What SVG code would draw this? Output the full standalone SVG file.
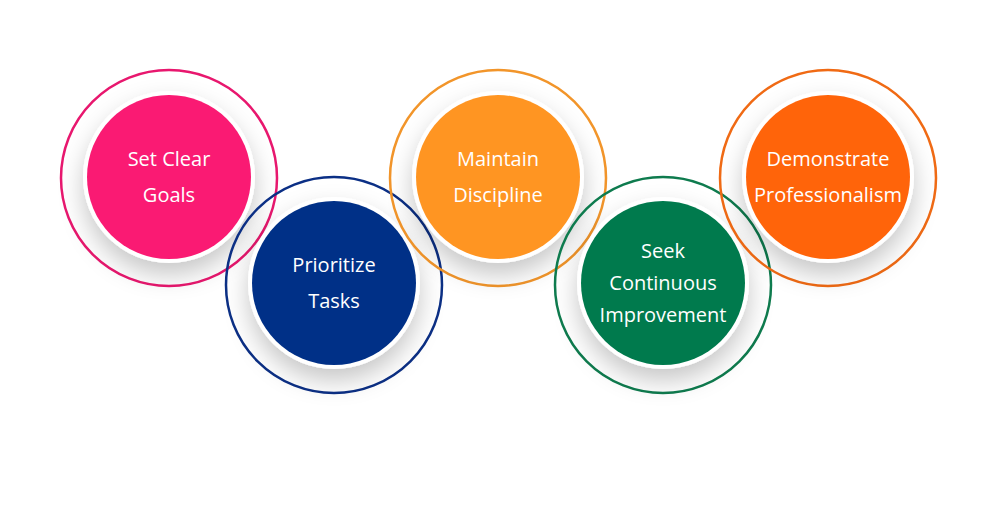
<svg xmlns="http://www.w3.org/2000/svg" width="1000" height="505" viewBox="0 0 1000 505">
<defs>
<filter id="sh" x="-50%" y="-50%" width="200%" height="200%"><feDropShadow dx="0" dy="12" stdDeviation="12" flood-color="#000" flood-opacity="0.22"/></filter>
<style>
.ring{fill:none;stroke-width:2.5}
.rim{fill:#fff;filter:url(#sh)}
.t{font-family:"Source Sans Pro","Open Sans","Liberation Sans",sans-serif;font-size:20px;fill:#fff;text-anchor:middle}
</style>
</defs>
<rect width="1000" height="505" fill="#fff"/>
<g id="n1"><circle class="ring" cx="169" cy="178" r="108" stroke="#E8176E"/><circle class="rim" cx="169" cy="177" r="86"/><circle cx="169" cy="177" r="82" fill="#FA1A73"/><text class="t" x="169" y="166">Set Clear</text><text class="t" x="169" y="202">Goals</text></g>
<g id="n2"><circle class="ring" cx="334" cy="285" r="108" stroke="#0B2F85"/><circle class="rim" cx="334" cy="283" r="86"/><circle cx="334" cy="283" r="82" fill="#003087"/><text class="t" x="334" y="272">Prioritize</text><text class="t" x="334" y="308">Tasks</text></g>
<g id="n3"><circle class="ring" cx="498" cy="178" r="108" stroke="#F2952A"/><circle class="rim" cx="498" cy="177" r="86"/><circle cx="498" cy="177" r="82" fill="#FF9522"/><text class="t" x="498" y="166">Maintain</text><text class="t" x="498" y="202">Discipline</text></g>
<g id="n4"><circle class="ring" cx="663" cy="285" r="108" stroke="#0E7B4E"/><circle class="rim" cx="663" cy="283" r="86"/><circle cx="663" cy="283" r="82" fill="#007A4D"/><text class="t" x="663" y="258">Seek</text><text class="t" x="663" y="290">Continuous</text><text class="t" x="663" y="322">Improvement</text></g>
<g id="n5"><circle class="ring" cx="828" cy="178" r="108" stroke="#F06A14"/><circle class="rim" cx="828" cy="177" r="86"/><circle cx="828" cy="177" r="82" fill="#FF640A"/><text class="t" x="828" y="166">Demonstrate</text><text class="t" x="828" y="202">Professionalism</text></g>
<g id="connectors"/>
</svg>
